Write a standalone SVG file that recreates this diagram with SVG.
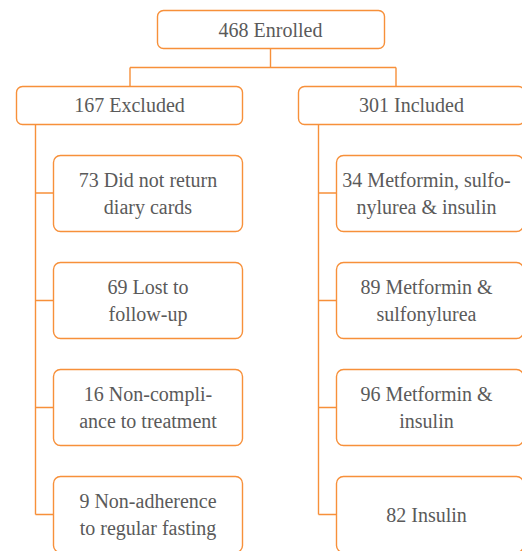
<svg xmlns="http://www.w3.org/2000/svg" width="522" height="551" viewBox="0 0 522 551">
<style>
.box{fill:#fff;stroke:#F7903A;stroke-width:1.4}
.ln{fill:none;stroke:#F7903A;stroke-width:1.4}
.t{font-family:'Liberation Serif','Times New Roman','DejaVu Serif',serif;font-size:20px;fill:#5a5a5a;text-anchor:middle}
</style>
<rect width="522" height="551" fill="#fff"/>
<g id="connectors">
<path class="ln" d="M270.5 48.5V67.5M130 67.5H396M130 67.5V86.5M396 67.5V86.5"/>
<path class="ln" d="M35.5 124.5V514.5M35.5 193H54M35.5 300.5H54M35.5 407.5H54M35.5 514.5H54"/>
<path class="ln" d="M318.5 124.5V514.5M318.5 193H337M318.5 300.5H337M318.5 407.5H337M318.5 514.5H337"/>
</g>
<g class="t">
<g id="enrolled"><rect class="box" x="157.5" y="10.5" width="227" height="38" rx="6"/><text x="270.5" y="37">468 Enrolled</text></g>
<g id="excluded"><rect class="box" x="16.5" y="86.5" width="226" height="38" rx="6"/><text x="129.5" y="112">167 Excluded</text></g>
<g id="included"><rect class="box" x="298.5" y="86.5" width="226" height="38" rx="6"/><text x="411.5" y="112">301 Included</text></g>
<g id="ex1"><rect class="box" x="53.5" y="155.5" width="189" height="76" rx="7"/><text x="148" y="186.5">73 Did not return</text><text x="148" y="213.5">diary cards</text></g>
<g id="ex2"><rect class="box" x="53.5" y="262.5" width="189" height="76" rx="7"/><text x="148" y="294">69 Lost to</text><text x="148" y="321">follow-up</text></g>
<g id="ex3"><rect class="box" x="53.5" y="369.5" width="189" height="76" rx="7"/><text x="148" y="401">16 Non-compli-</text><text x="148" y="428">ance to treatment</text></g>
<g id="ex4"><rect class="box" x="53.5" y="476.5" width="189" height="76" rx="7"/><text x="148" y="508">9 Non-adherence</text><text x="148" y="535">to regular fasting</text></g>
<g id="in1"><rect class="box" x="336.5" y="155.5" width="187" height="76" rx="7"/><text x="426.5" y="186.5">34 Metformin, sulfo-</text><text x="426.5" y="213.5">nylurea &amp; insulin</text></g>
<g id="in2"><rect class="box" x="336.5" y="262.5" width="187" height="76" rx="7"/><text x="426.5" y="294">89 Metformin &amp;</text><text x="426.5" y="321">sulfonylurea</text></g>
<g id="in3"><rect class="box" x="336.5" y="369.5" width="187" height="76" rx="7"/><text x="426.5" y="401">96 Metformin &amp;</text><text x="426.5" y="428">insulin</text></g>
<g id="in4"><rect class="box" x="336.5" y="476.5" width="187" height="76" rx="7"/><text x="426.5" y="521.5">82 Insulin</text></g>
</g>
</svg>
